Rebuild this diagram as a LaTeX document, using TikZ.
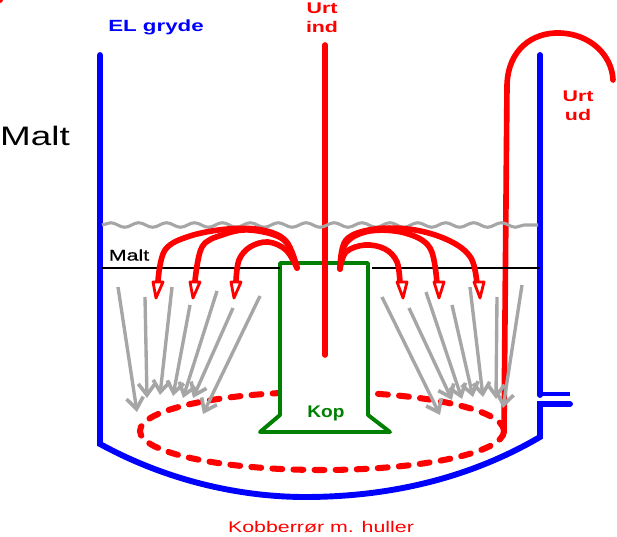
\documentclass[tikz,border=0pt]{standalone}
\usepackage{fontspec}
\setmainfont[FakeStretch=1.38]{Liberation Sans}
\newfontfamily\kopfont[FakeStretch=1.13]{Liberation Sans}
\newfontfamily\maltfont[FakeStretch=1.38,FakeBold=0.8]{Liberation Sans}
\usetikzlibrary{arrows.meta,decorations.pathmorphing,calc}
\definecolor{potblue}{RGB}{0,0,255}
\definecolor{cupgreen}{RGB}{0,128,0}
\definecolor{wortred}{RGB}{255,0,0}
\definecolor{flowgray}{RGB}{166,166,166}
\tikzset{
  potline/.style={draw=potblue,line width=4.2pt,line join=miter},
  cupline/.style={draw=cupgreen,line width=2.8pt,line join=round,fill=white},
  wortline/.style={draw=wortred,line width=4pt,line cap=round},
  hollowhead/.style={draw=wortred,fill=white,line width=2pt,line join=round},
  flowline/.style={draw=flowgray,line width=2.4pt,-{Straight Barb[length=8pt,width=12pt,line width=2.6pt]}},
  bluelabel/.style={text=potblue,font=\bfseries\fontsize{11.5}{13}\selectfont},
  redlabel/.style={text=wortred,font=\bfseries\fontsize{11}{13.5}\selectfont,align=center}
}

\begin{document}
\begin{tikzpicture}[x=0.025cm,y=-0.025cm]
\useasboundingbox (0,0) rectangle (617,537);
\fill[wortred] (0,0)--(3,0) arc (0:90:3)--cycle;
% the pot
\draw[potline,line cap=round] (100,55)--(100,444) .. controls (175,485) and (250,497) .. (305,497)
  .. controls (390,497) and (470,478) .. (540,437)--(540,404)--(570,404);
\draw[potline,line width=2.4pt] (570,394)--(540,394);
\draw[potline,line cap=round] (540,395)--(540,55);
% copper ring with holes
\draw[wortline,line width=4.3pt,dash pattern=on 7pt off 8pt] (322,431) ellipse [x radius=182,y radius=39];
% the cup
\draw[cupline] (280,263)--(368,263)--(368,415)--(390,432)--(260,432)--(280,415)--cycle;
% wort in and out
\draw[wortline] (325,45)--(325,355);
\draw[wortline] (504,432)--(507,85) .. controls (508,50) and (532,32) .. (560,33)
  .. controls (590,34) and (612,55) .. (613,80);
% liquid surface and malt level
\draw[flowgray,line width=2.2pt,decorate,decoration={snake,segment length=28*0.709pt,amplitude=1.6pt}] (102,225)--(538,225);
\draw[black,line width=2.1pt] (102,268)--(280,268);
\draw[black,line width=2.1pt] (372,268)--(540,268);
% spray from the cup, left side
\draw[wortline] plot[smooth,tension=.6] coordinates {(297,268) (286,241) (262,230) (228,229) (190,236) (165,250) (158,281)};
\draw[wortline] plot[smooth,tension=.6] coordinates {(297,268) (284,240) (250,230) (222,235) (202,247) (195,281)};
\draw[wortline] plot[smooth,tension=.6] coordinates {(297,268) (286,250) (268,242) (250,247) (239,260) (236,281)};
% spray from the cup, right side
\draw[wortline] plot[smooth,tension=.6] coordinates {(340,269) (346,252) (365,245) (385,249) (397,262) (400,284)};
\draw[wortline] plot[smooth,tension=.6] coordinates {(340,269) (346,243) (370,231) (405,233) (430,248) (437,284)};
\draw[wortline] plot[smooth,tension=.6] coordinates {(340,269) (346,240) (375,229) (415,230) (450,241) (471,258) (477,284)};
% hollow tips
\foreach \bx/\tx in {158/156,195/193,236/234,402/403,439/439,479/480}
  \draw[hollowhead] (\bx-5,282)--(\bx+5,282)--(\tx,298)--cycle;
% flow through the malt
\foreach \sx/\sy/\ex/\ey in {118/287/137/412,145/297/147/398,172/287/160/395,190/305/173/396,
  217/291/183/398,233/308/193/398,260/296/203/414,382/297/440/415,409/308/452/400,426/292/462/399,
  452/305/473/397,470/287/483/397,497/297/496/399,522/285/503/408}
  \draw[flowline] (\sx,\sy)--(\ex,\ey);
% labels
\node[bluelabel] (gryde) at (156,27) {EL gryde};
\node[redlabel] (urtind) at (322,18) {Urt\\ind};
\node[redlabel] (urtud) at (578,106) {Urt\\ud};
\node[font=\fontsize{19}{21}\selectfont] (maltbig) at (35,136) {Malt};
\node[font=\maltfont\fontsize{11}{13}\selectfont] (maltsmall) at (129,255) {Malt};
\node[text=cupgreen,font=\kopfont\bfseries\fontsize{12}{13}\selectfont] (kop) at (326,413) {Kop};
\node[text=wortred,font=\fontsize{11}{13}\selectfont] (ror) at (321,527) {Kobberrør m. huller};
\end{tikzpicture}
\end{document}
